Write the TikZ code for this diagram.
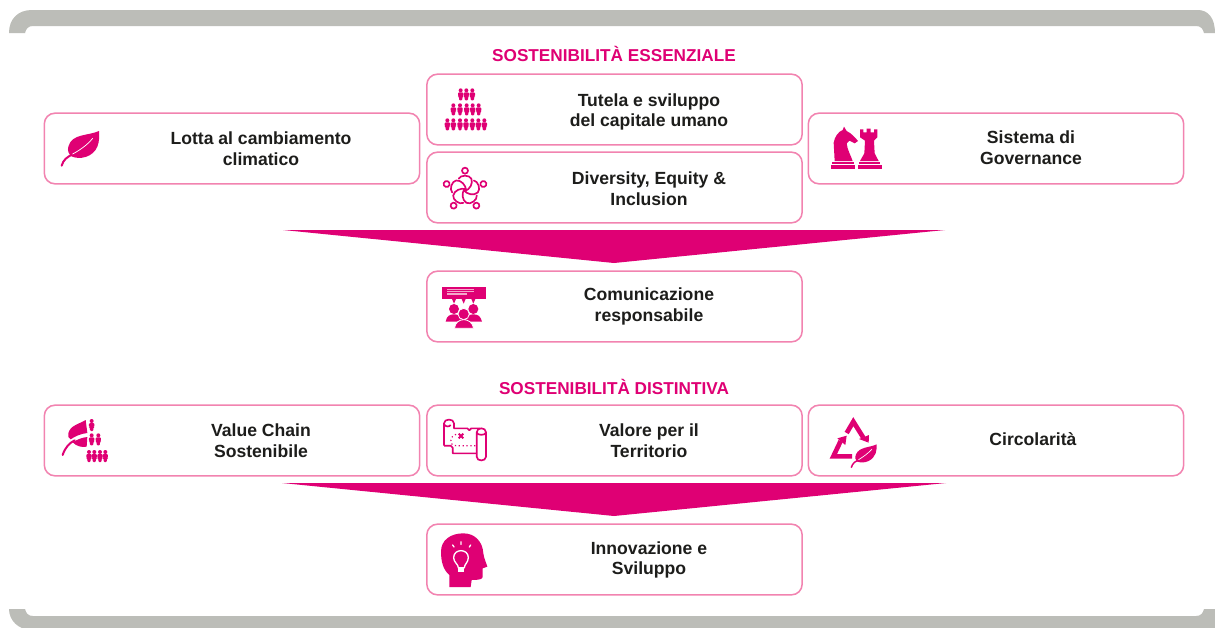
\documentclass[tikz,border=0pt]{standalone}
\usepackage{fontspec}
\setmainfont{Liberation Sans}
\definecolor{mag}{HTML}{DF0074}
\definecolor{boxpink}{HTML}{F283B0}
\definecolor{bandgrey}{HTML}{BCBDB8}
\definecolor{ink}{HTML}{1D1D1B}
\definecolor{paleline}{HTML}{F4A6CB}
\tikzset{
  boxnode/.style={draw=boxpink,line width=1.15pt,rounded corners=8pt,fill=white,minimum width=281.5pt,minimum height=53pt,inner sep=0pt,outer sep=0pt},
  lab/.style={font=\bfseries\fontsize{13.2}{15.6}\selectfont,text=ink,align=center,inner sep=0pt},
  headline/.style={font=\bfseries\fontsize{12.9}{15}\selectfont,text=mag,inner sep=0pt},
  funnel/.style={fill=mag},
  band/.style={fill=bandgrey},
  iconline/.style={draw=mag,line width=1.25pt,fill=none},
  icon/.style={shift={#1},scale=1/3},
}
\newcommand{\pers}[2]{%
  \fill[mag] (#1,#2+6) circle (6);
  \fill[mag,rounded corners=0.8pt] (#1-8,#2+12) -- (#1+8,#2+12) -- (#1+8,#2+24) -- (#1+5,#2+25) -- (#1+5,#2+36) -- (#1-5,#2+36) -- (#1-5,#2+25) -- (#1-8,#2+24) -- cycle;
}
\begin{document}
\begin{tikzpicture}[x=0.75pt,y=-0.75pt]
\useasboundingbox (0,0) rectangle (1215,628);
\fill[white] (0,0) rectangle (1215,628);
\begin{scope}
\clip (0,0) rectangle (1215,628);
\fill[band] (9,33) .. controls (9,19) and (18,10) .. (32,10) -- (1198,10) .. controls (1208,10) and (1215,18) .. (1215,33) -- (1204,33) .. controls (1203,29) and (1201,26) .. (1196,26) -- (33,26) .. controls (28,26) and (26,29) .. (25,33) -- cycle;
\fill[band] (9,609) .. controls (9,620) and (18,630) .. (32,630) -- (1215,630) -- (1215,609) -- (1204,609) .. controls (1203,613) and (1201,616) .. (1196,616) -- (33,616) .. controls (28,616) and (26,613) .. (25,609) -- cycle;
\end{scope}

\node[headline] (t1) at (614,54) {SOSTENIBILITÀ ESSENZIALE};
\node[headline] (t2) at (614,387) {SOSTENIBILITÀ DISTINTIVA};

\node[boxnode] (b1) at (232,148.5) {};
\node[boxnode] (b2) at (614.5,109.5) {};
\node[boxnode] (b3) at (614.5,187.5) {};
\node[boxnode] (b4) at (996,148.5) {};
\node[boxnode] (b5) at (614.5,306.5) {};
\node[boxnode] (b6) at (232,440.5) {};
\node[boxnode] (b7) at (614.5,440.5) {};
\node[boxnode] (b8) at (996,440.5) {};
\node[boxnode] (b9) at (614.5,559.5) {};

\fill[funnel] (283,230) -- (945,230) -- (614,263) -- cycle;
\fill[funnel] (282,483) -- (946,483) -- (614,516) -- cycle;

\node[lab] (l1) at (261,149) {Lotta al cambiamento\\climatico};
\node[lab] (l2) at (649,112) {Tutela e sviluppo\\del capitale umano};
\node[lab] (l3) at (649,188.5) {Diversity, Equity \&\\Inclusion};
\node[lab] (l4) at (1031,147.5) {Sistema di\\Governance};
\node[lab] (l5) at (649,306.5) {Comunicazione\\responsabile};
\node[lab] (l6) at (261,440.5) {Value Chain\\Sostenibile};
\node[lab] (l7) at (649,440.5) {Valore per il\\Territorio};
\node[lab] (l8) at (1033,439.5) {Circolarità};
\node[lab] (l9) at (649,560) {Innovazione e\\Sviluppo};

% leaf icon
\begin{scope}[icon={(0,0)}]
\fill[mag] (297,393) .. controls (265,408) and (215,400) .. (205,440) .. controls (202,452) and (206,462) .. (212,468) .. controls (240,482) and (280,470) .. (292,440) .. controls (298,425) and (298,410) .. (297,393) -- cycle;
\draw[mag,line width=1.5pt,line cap=round] (185,497) .. controls (190,480) and (200,470) .. (222,462);
\draw[white,line width=0.55pt,line cap=round] (218,462) .. controls (240,450) and (262,435) .. (278,415);
\end{scope}

% people pyramid
\begin{scope}[icon={(420,70)}]
\foreach \px in {122,139,157} {\pers{\px}{55}}
\foreach \px in {100,120,140,158,176} {\pers{\px}{100}}
\foreach \px in {82,100,120,138,157,175,193} {\pers{\px}{145}}
\end{scope}

% diversity icon
\begin{scope}[icon={(420,70)}]
\foreach \ang in {0,72,144,216,288} {
  \begin{scope}[rotate around={\ang:(135,360)}]
    \draw[iconline] (135,302) circle (9);
    \draw[iconline,line cap=round] (116,326) .. controls (122,314) and (148,314) .. (154,326) .. controls (160,340) and (150,358) .. (134,364);
  \end{scope}
}
\end{scope}

% chess icon
\begin{scope}[icon={(820,110)}]
\fill[mag] (44,153) -- (41,98) .. controls (44,80) and (55,65) .. (68,60) -- (72,50) -- (80,63) .. controls (94,70) and (105,82) .. (114,93) -- (104,100) -- (88,92) -- (80,100) .. controls (82,120) and (92,135) .. (98,153) -- cycle;
\fill[mag] (36,157) rectangle (102,163);
\fill[mag] (33,165) rectangle (105,178);
\fill[mag] (120,58) -- (130,58) -- (130,67) -- (140,67) -- (140,56) -- (152,56) -- (152,67) -- (162,67) -- (162,58) -- (172,58) -- (172,82) -- (162,92) -- (164,130) -- (176,153) -- (120,153) -- (133,130) -- (135,92) -- (120,82) -- cycle;
\fill[mag] (118,157) rectangle (180,163);
\fill[mag] (113,165) rectangle (185,178);
\end{scope}

% communication icon
\begin{scope}[icon={(430,275)}]
\fill[mag] (37,35) rectangle (167,72);
\fill[mag] (66,72) -- (78,72) -- (72,86) -- cycle;
\fill[mag] (95,72) -- (107,72) -- (101,86) -- cycle;
\fill[mag] (124,72) -- (136,72) -- (130,86) -- cycle;
\draw[paleline,line width=0.9pt] (52,43) -- (132,43) (52,50) -- (132,50) (52,57) -- (110,57);
\fill[mag] (72,102) circle (15);
\fill[mag] (130,102) circle (15);
\fill[mag] (47,140) .. controls (50,122) and (60,118) .. (72,118) .. controls (84,118) and (94,122) .. (98,140) -- cycle;
\fill[mag] (106,140) .. controls (110,122) and (120,118) .. (130,118) .. controls (142,118) and (152,122) .. (156,140) -- cycle;
\fill[mag,draw=white,line width=0.6pt] (101,117) circle (17);
\fill[mag,draw=white,line width=0.6pt] (73,160) .. controls (76,142) and (88,134) .. (101,134) .. controls (114,134) and (128,142) .. (131,160) -- cycle;
\end{scope}

% value chain icon
\begin{scope}[icon={(40,405)}]
\fill[mag] (137,45) .. controls (115,58) and (90,62) .. (85,85) .. controls (83,94) and (86,100) .. (92,103) .. controls (105,94) and (122,86) .. (142,84) -- cycle;
\fill[mag] (98,112) .. controls (115,102) and (125,98) .. (142,96) -- (140,125) .. controls (125,128) and (110,124) .. (98,112) -- cycle;
\draw[mag,line width=1.5pt,line cap=round] (68,150) .. controls (75,128) and (88,114) .. (104,106);
\foreach \px/\py in {155/42,155/85,175/85,147/135,163/135,180/135,196/135} {\pers{\px}{\py}}
\end{scope}

% map icon
\begin{scope}[icon={(430,405)}]
\draw[iconline,line join=round] (42,122) -- (42,55) .. controls (42,40) and (72,40) .. (72,55) -- (72,70) -- (112,70) -- (118,76) -- (124,70) -- (150,70);
\draw[iconline] (42,58) .. controls (46,66) and (58,66) .. (62,60);
\draw[iconline,line join=round] (42,122) -- (62,122) -- (68,128) -- (68,145) -- (140,145);
\draw[iconline] (140,82) .. controls (140,66) and (168,66) .. (168,82) -- (168,155) .. controls (168,170) and (140,170) .. (140,155) -- cycle;
\draw[iconline] (140,82) .. controls (140,92) and (168,92) .. (168,82);
\draw[mag,line width=0.9pt,dotted] (78,88) .. controls (60,92) and (55,122) .. (78,122) -- (136,122);
\draw[mag,line width=1.4pt] (86,86) -- (100,100) (100,86) -- (86,100);
\end{scope}

% recycling icon
\begin{scope}[icon={(820,405)}]
\draw[mag,line width=3.5pt,line join=miter] (80,84) -- (100,50) -- (130,98);
\fill[mag] (117,102) -- (147,90) -- (146,113) -- cycle;
\draw[mag,line width=3.5pt,line join=miter] (62,108) -- (40,154) -- (96,154);
\fill[mag] (52,100) -- (80,92) -- (76,120) -- cycle;
\fill[mag] (170,118) .. controls (150,128) and (118,125) .. (108,148) .. controls (104,158) and (106,165) .. (112,170) .. controls (135,178) and (160,165) .. (167,145) .. controls (170,135) and (170,128) .. (170,118) -- cycle;
\draw[mag,line width=1.1pt,line cap=round] (94,187) .. controls (98,175) and (106,168) .. (116,164);
\draw[white,line width=0.5pt,line cap=round] (116,164) .. controls (130,155) and (145,145) .. (156,132);
\end{scope}

% head icon
\begin{scope}[icon={(430,525)}]
\fill[mag] (58,186) -- (58,150) .. controls (40,135) and (33,110) .. (33,80) .. controls (33,45) and (62,25) .. (100,25) .. controls (135,25) and (158,50) .. (160,85) .. controls (162,100) and (168,112) .. (172,125) -- (158,130) -- (158,155) .. controls (158,162) and (150,165) .. (125,165) -- (122,186) -- cycle;
\draw[white,line width=1pt] (85,128) .. controls (85,118) and (71,112) .. (71,98) .. controls (71,70) and (115,70) .. (115,98) .. controls (115,112) and (103,118) .. (103,128) -- cycle;
\fill[white] (85,130) rectangle (103,140);
\draw[white,line width=1pt,line cap=round] (68,60) -- (72,66) (93,50) -- (93,58) (122,60) -- (118,66);
\end{scope}
\end{tikzpicture}
\end{document}
